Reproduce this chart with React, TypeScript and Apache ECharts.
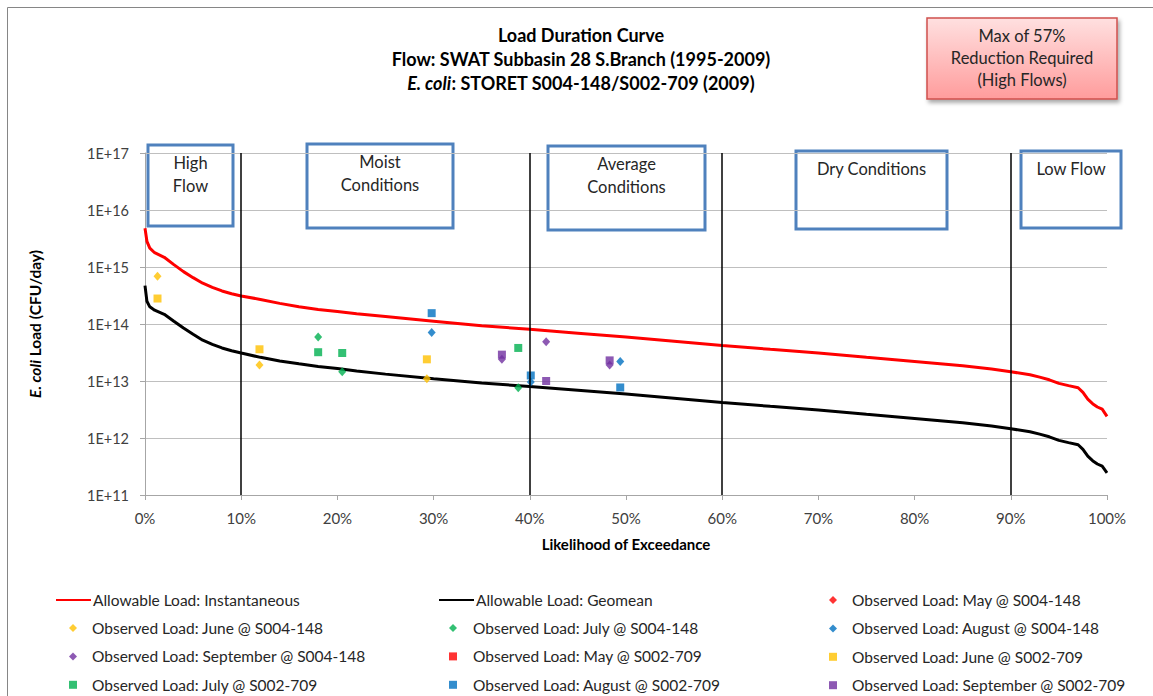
import React, { useEffect, useRef } from "react";
import * as echarts from "echarts";

const FONT = "Lato, 'Open Sans', sans-serif";

// Flow-duration curve x positions (% likelihood of exceedance)
const curveX = [0, 0.2, 0.5, 1, 2, 3, 4, 5, 6, 7, 8, 9, 10, 12, 14, 16, 18, 20, 22, 25, 30, 35, 40, 45, 50, 55, 60, 65, 70, 75, 80, 85, 88, 90, 92, 93, 94, 95, 96, 97, 97.5, 98, 98.5, 99, 99.5, 100];
const instantaneous = [4.8e15, 2.82e15, 2.14e15, 1.78e15, 1.48e15, 1.1e15, 8.3e14, 6.5e14, 5.2e14, 4.4e14, 3.8e14, 3.4e14, 3.1e14, 2.7e14, 2.3e14, 2.0e14, 1.8e14, 1.66e14, 1.51e14, 1.35e14, 1.12e14, 9.3e13, 8.1e13, 6.9e13, 5.9e13, 5.0e13, 4.2e13, 3.6e13, 3.1e13, 2.6e13, 2.2e13, 1.86e13, 1.62e13, 1.45e13, 1.29e13, 1.17e13, 1.05e13, 9.1e12, 8.3e12, 7.6e12, 6.3e12, 4.8e12, 4.0e12, 3.5e12, 3.2e12, 2.4e12];
const geomean = [4.7e14, 2.5e14, 2.0e14, 1.75e14, 1.48e14, 1.12e14, 8.5e13, 6.6e13, 5.2e13, 4.4e13, 3.8e13, 3.4e13, 3.1e13, 2.6e13, 2.25e13, 2.0e13, 1.8e13, 1.65e13, 1.5e13, 1.32e13, 1.1e13, 9.2e12, 8.0e12, 6.9e12, 5.9e12, 5.0e12, 4.2e12, 3.6e12, 3.1e12, 2.6e12, 2.2e12, 1.86e12, 1.62e12, 1.45e12, 1.29e12, 1.17e12, 1.05e12, 9.1e11, 8.3e11, 7.6e11, 6.3e11, 4.8e11, 4.0e11, 3.5e11, 3.2e11, 2.45e11];

// Observed loads [exceedance %, CFU/day]
const mayS004: number[][] = [];
const juneS004 = [[1.3, 6.9e14], [11.9, 1.9e13], [29.3, 1.1e13]];
const julyS004 = [[18.0, 5.9e13], [20.5, 1.45e13], [38.8, 7.6e12]];
const augS004 = [[29.8, 7.1e13], [40.1, 9.6e12], [49.4, 2.2e13]];
const sepS004 = [[37.1, 2.4e13], [41.7, 4.9e13], [48.3, 1.9e13]];
const mayS002: number[][] = [];
const juneS002 = [[1.3, 2.8e14], [11.9, 3.6e13], [29.3, 2.4e13]];
const julyS002 = [[18.0, 3.2e13], [20.5, 3.1e13], [38.8, 3.8e13]];
const augS002 = [[29.8, 1.55e14], [40.1, 1.25e13], [49.4, 7.7e12]];
const sepS002 = [[37.1, 2.9e13], [41.7, 1.0e13], [48.3, 2.3e13]];

const zoneBoundaries = [10, 40, 60, 90];
const xTicks = [0, 10, 20, 30, 40, 50, 60, 70, 80, 90, 100];

const zoneBoxes = [
  { text: "High\nFlow", x: 148, y: 145, w: 85, h: 81 },
  { text: "Moist\nConditions", x: 307, y: 144, w: 146, h: 84 },
  { text: "Average\nConditions", x: 548, y: 146, w: 157, h: 84 },
  { text: "Dry Conditions", x: 796, y: 151, w: 151, h: 78 },
  { text: "Low Flow", x: 1021, y: 151, w: 100, h: 77 },
];

const NAMES = {
  inst: "Allowable Load: Instantaneous",
  geo: "Allowable Load: Geomean",
  mayD: "Observed Load: May @ S004-148",
  junD: "Observed Load: June @ S004-148",
  julD: "Observed Load: July @ S004-148",
  augD: "Observed Load: August @ S004-148",
  sepD: "Observed Load: September @ S004-148",
  mayS: "Observed Load: May @ S002-709",
  junS: "Observed Load: June @ S002-709",
  julS: "Observed Load: July @ S002-709",
  augS: "Observed Load: August @ S002-709",
  sepS: "Observed Load: September @ S002-709",
};

const RED = "#FF0000";
const ORANGE = "#FFC000";
const GREEN = "#00B050";
const BLUE = "#0070C0";
const PURPLE = "#7030A0";

export default function App() {
  const ref = useRef<HTMLDivElement>(null);
  useEffect(() => {
    if (!ref.current) return;
    const chart = echarts.init(ref.current, null, { renderer: "svg" });
    const scatter = (name: string, data: number[][], color: string, symbol: string) => ({
      name,
      type: "scatter",
      data,
      symbol,
      symbolSize: symbol === "diamond" ? [8, 9] : 8,
      itemStyle: { color },
      z: 4,
    });
    const textStyle = { fontFamily: FONT, fontSize: 15.5, color: "#262626", lineHeight: 18 };
    const lineLegend = (name: string, left: number) => ({
      orient: "vertical",
      left,
      top: 591,
      height: 30,
      padding: 0,
      itemWidth: 35,
      itemHeight: 14,
      selectedMode: false,
      itemStyle: { opacity: 0 },
      textStyle: { ...textStyle, padding: [0, 0, 0, -3] },
      data: [name],
    });
    const dotLegend = (names: string[], left: number, top: number, pad: number) => ({
      orient: "vertical",
      left,
      top,
      height: 140,
      padding: 0,
      itemWidth: 8,
      itemHeight: 8,
      itemGap: 10.4,
      selectedMode: false,
      textStyle: { ...textStyle, padding: [0, 0, 0, pad] },
      data: names,
    });
    const boxGraphics = zoneBoxes.map((b) => ({
      type: "group",
      z: 10,
      children: [
        {
          type: "rect",
          shape: { x: b.x, y: b.y, width: b.w, height: b.h },
          style: { fill: "#fff", stroke: "#4F81BD", lineWidth: 3 },
        },
        {
          type: "text",
          x: b.x + b.w / 2,
          y: b.y + 6.5,
          style: {
            text: b.text,
            font: `16.5px ${FONT}`,
            fill: "#262626",
            align: "center",
            verticalAlign: "top",
            lineHeight: 23,
          },
        },
      ],
    }));
    chart.setOption({
      animation: false,
      backgroundColor: "#fff",
      grid: { left: 145, right: 46, top: 153, bottom: 201, containLabel: false },
      xAxis: {
        type: "value",
        min: 0,
        max: 100,
        interval: 10,
        name: "Likelihood of Exceedance",
        nameLocation: "middle",
        nameGap: 41,
        nameTextStyle: { fontFamily: FONT, fontSize: 15, fontWeight: "bold", color: "#000" },
        axisLine: { show: true, lineStyle: { color: "#A6A6A6", width: 1 } },
        axisTick: { show: true, length: 5, lineStyle: { color: "#A6A6A6" } },
        axisLabel: {
          fontFamily: FONT,
          fontSize: 15,
          color: "#404040",
          margin: 15,
          formatter: (v: number) => (xTicks.includes(v) ? `${v}%` : ""),
        },
        splitLine: { show: false },
      },
      yAxis: {
        type: "log",
        logBase: 10,
        min: 1e11,
        max: 1e17,
        name: "{i|E. coli} Load (CFU/day)",
        nameLocation: "middle",
        nameRotate: 90,
        nameGap: 102,
        nameTextStyle: {
          fontFamily: FONT,
          fontSize: 15.5,
          fontWeight: "bold",
          color: "#000",
          rich: { i: { fontFamily: FONT, fontSize: 15.5, fontWeight: "bold", fontStyle: "italic", color: "#000" } },
        },
        axisLine: { show: true, lineStyle: { color: "#A6A6A6", width: 1 } },
        axisTick: { show: true, length: 5, lineStyle: { color: "#A6A6A6" } },
        axisLabel: {
          fontFamily: FONT,
          fontSize: 14.5,
          color: "#404040",
          margin: 16,
          formatter: (v: number) => `1E+${Math.round(Math.log10(v))}`,
        },
        splitLine: { show: true, lineStyle: { color: "#BFBFBF", width: 1 } },
      },
      legend: [
        lineLegend(NAMES.inst, 55),
        lineLegend(NAMES.geo, 438),
        dotLegend([NAMES.junD, NAMES.sepD, NAMES.julS], 69, 619, 10),
        dotLegend([NAMES.julD, NAMES.mayS, NAMES.augS], 449, 619, 11),
        dotLegend([NAMES.mayD, NAMES.augD, NAMES.junS, NAMES.sepS], 829, 591, 10),
      ],
      series: [
        {
          name: NAMES.inst,
          type: "line",
          data: curveX.map((x, i) => [x, instantaneous[i]]),
          showSymbol: false,
          symbol: "none",
          lineStyle: { color: RED, width: 3 },
          itemStyle: { color: RED },
          z: 3,
          markLine: {
            silent: true,
            symbol: "none",
            label: { show: false },
            lineStyle: { color: "#000", width: 1.5, type: "solid" },
            data: zoneBoundaries.map((x) => ({ xAxis: x })),
          },
        },
        {
          name: NAMES.geo,
          type: "line",
          data: curveX.map((x, i) => [x, geomean[i]]),
          showSymbol: false,
          symbol: "none",
          lineStyle: { color: "#000", width: 3 },
          itemStyle: { color: "#000" },
          z: 3,
        },
        scatter(NAMES.mayD, mayS004, RED, "diamond"),
        scatter(NAMES.junD, juneS004, ORANGE, "diamond"),
        scatter(NAMES.julD, julyS004, GREEN, "diamond"),
        scatter(NAMES.augD, augS004, BLUE, "diamond"),
        scatter(NAMES.sepD, sepS004, PURPLE, "diamond"),
        scatter(NAMES.mayS, mayS002, RED, "rect"),
        scatter(NAMES.junS, juneS002, ORANGE, "rect"),
        scatter(NAMES.julS, julyS002, GREEN, "rect"),
        scatter(NAMES.augS, augS002, BLUE, "rect"),
        scatter(NAMES.sepS, sepS002, PURPLE, "rect"),
      ],
      graphic: [
        {
          type: "rect",
          silent: true,
          z: -1,
          shape: { x: 7.5, y: 7.5, width: 1300, height: 900 },
          style: { fill: "none", stroke: "#868686", lineWidth: 1 },
        },
        {
          type: "text",
          x: 581,
          y: 23,
          z: 10,
          style: {
            text: "{b|Load Duration Curve}\n{b|Flow: SWAT Subbasin 28 S.Branch (1995-2009)}\n{bi|E. coli}{b|: STORET S004-148/S002-709 (2009)}",
            align: "center",
            verticalAlign: "top",
            lineHeight: 24,
            rich: {
              b: { font: `bold 18px ${FONT}`, fill: "#000", lineHeight: 24 },
              bi: { font: `italic bold 18px ${FONT}`, fill: "#000", lineHeight: 24 },
            },
          },
        },
        {
          type: "group",
          z: 10,
          children: [
            {
              type: "rect",
              shape: { x: 927, y: 18, width: 190, height: 81 },
              style: {
                fill: new echarts.graphic.LinearGradient(0, 0, 0, 1, [
                  { offset: 0, color: "#FFE0E0" },
                  { offset: 1, color: "#FF9C9C" },
                ]),
                stroke: "#D0504D",
                lineWidth: 1.5,
                shadowBlur: 4,
                shadowOffsetX: 2,
                shadowOffsetY: 3,
                shadowColor: "rgba(0,0,0,0.35)",
              },
            },
            {
              type: "text",
              x: 1022,
              y: 25,
              style: {
                text: "Max of 57%\nReduction Required\n(High Flows)",
                font: `16.5px ${FONT}`,
                fill: "#262626",
                align: "center",
                verticalAlign: "top",
                lineHeight: 22,
              },
            },
          ],
        },
        ...boxGraphics,
      ],
    });
    return () => chart.dispose();
  }, []);
  return <div ref={ref} style={{ position: "fixed", left: 0, top: 0, width: 1153, height: 696 }} />;
}
